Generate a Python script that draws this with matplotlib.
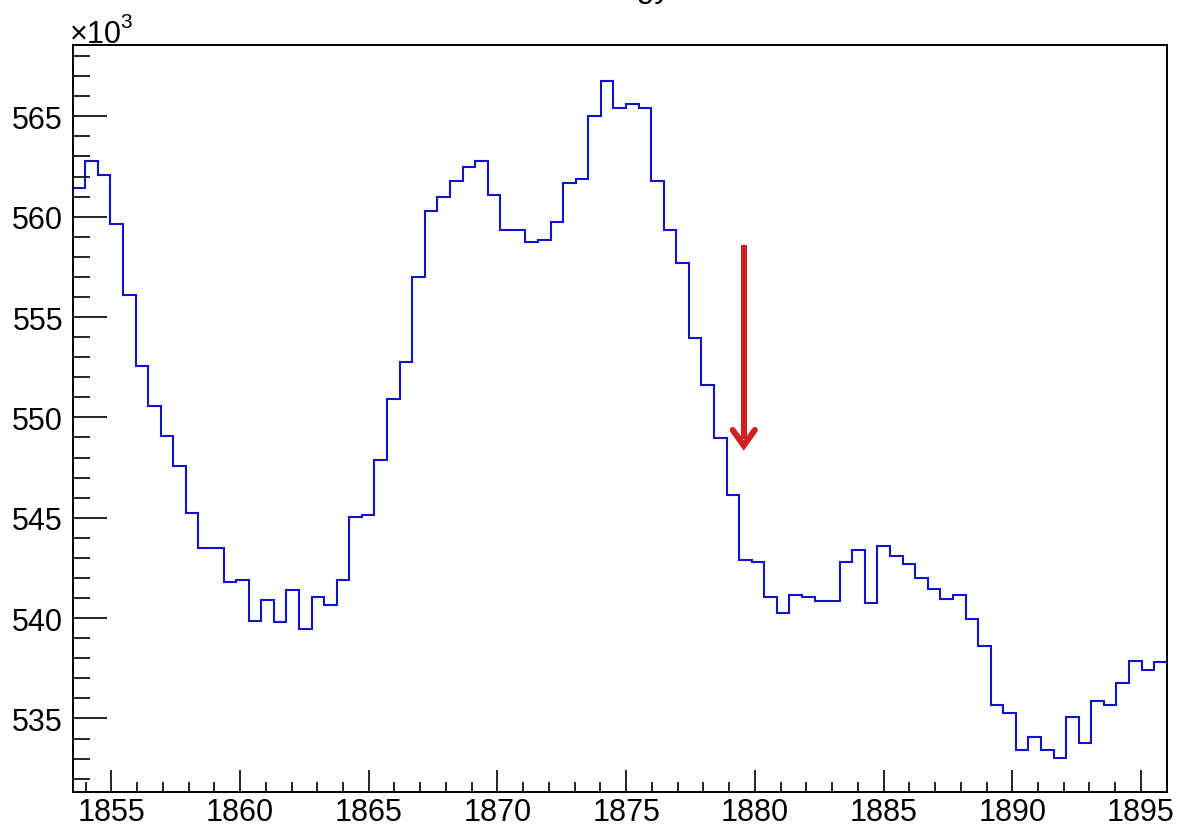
import numpy as np
import matplotlib
matplotlib.use("Agg")
import matplotlib.pyplot as plt
from matplotlib.ticker import MultipleLocator

# ---- data (counts in units of 10^3) ----
x_min, x_max, n_bins = 1853.5, 1896.0, 87
counts_k = [561.41, 562.76, 562.08, 559.63, 556.10, 552.57, 550.55, 549.06, 547.59, 545.23,
            543.49, 543.49, 541.81, 541.91, 539.87, 540.91, 539.79, 541.41, 539.45, 541.05,
            540.65, 541.91, 545.02, 545.12, 547.89, 550.91, 552.77, 556.98, 560.30, 561.00,
            561.79, 562.46, 562.76, 561.08, 559.33, 559.33, 558.75, 558.84, 559.72, 561.68,
            561.88, 565.00, 566.76, 565.41, 565.60, 565.40, 561.76, 559.32, 557.69, 553.97,
            551.61, 548.97, 546.13, 542.89, 542.81, 541.03, 540.25, 541.15, 541.03, 540.87,
            540.87, 542.81, 543.39, 540.75, 543.61, 543.09, 542.69, 542.01, 541.43, 540.95,
            541.13, 539.97, 538.59, 535.65, 535.25, 533.43, 534.09, 533.43, 533.01, 535.05,
            533.77, 535.85, 535.65, 536.75, 537.88, 537.41, 537.79]
x_ticks = [1855, 1860, 1865, 1870, 1875, 1880, 1885, 1890, 1895]
y_ticks = [535, 540, 545, 550, 555, 560, 565]
title_text = "Energy"
arrow_x = 1879.57
arrow_top, arrow_tip = 558.59, 548.60

plt.rcParams['font.family'] = ['Liberation Sans', 'DejaVu Sans']

W, H = 1178, 828
fig = plt.figure(figsize=(W / 100, H / 100), dpi=100)
ax = fig.add_axes([72.7 / W, 1 - 792.7 / H, (1166.7 - 72.7) / W, (792.7 - 46) / H])

edges = np.linspace(x_min, x_max, n_bins + 1)
ax.stairs(counts_k, edges, baseline=None, color='#1212c8', lw=1.5)

# red arrow annotation
red = '#cc2222'
ax.plot([arrow_x, arrow_x], [arrow_top, arrow_tip + 0.3], color=red, lw=4.4,
        solid_capstyle='butt')
ax.plot([arrow_x - 0.43, arrow_x, arrow_x + 0.43], [arrow_tip + 0.77, arrow_tip, arrow_tip + 0.77],
        color=red, lw=4.4, solid_capstyle='round', solid_joinstyle='miter')

ax.set_xlim(x_min, x_max)
ax.set_ylim(531.35, 568.553)
ax.set_xticks(x_ticks)
ax.set_yticks(y_ticks)
ax.xaxis.set_minor_locator(MultipleLocator(1))
ax.yaxis.set_minor_locator(MultipleLocator(1))
ax.tick_params(axis='both', which='both', direction='in', width=1.2, colors='black',
               labelsize=22)
ax.tick_params(axis='x', which='major', length=16, pad=4)
ax.tick_params(axis='x', which='minor', length=7.5)
ax.tick_params(axis='y', which='major', length=24.5, pad=7)
ax.tick_params(axis='y', which='minor', length=12)
for s in ax.spines.values():
    s.set_linewidth(1.4)

# exponent label
fig.text(70 / W, 1 - 43 / H, "×10", fontsize=22, ha='left', va='baseline')
fig.text(120 / W, 1 - 28 / H, "3", fontsize=15, ha='left', va='baseline')

# title (mostly above the canvas, as in the reference)
fig.text(671 / W, 1 + 3 / H, title_text, fontsize=23, ha='right', va='baseline')

fig.savefig("out.png", dpi=100, facecolor='white')
